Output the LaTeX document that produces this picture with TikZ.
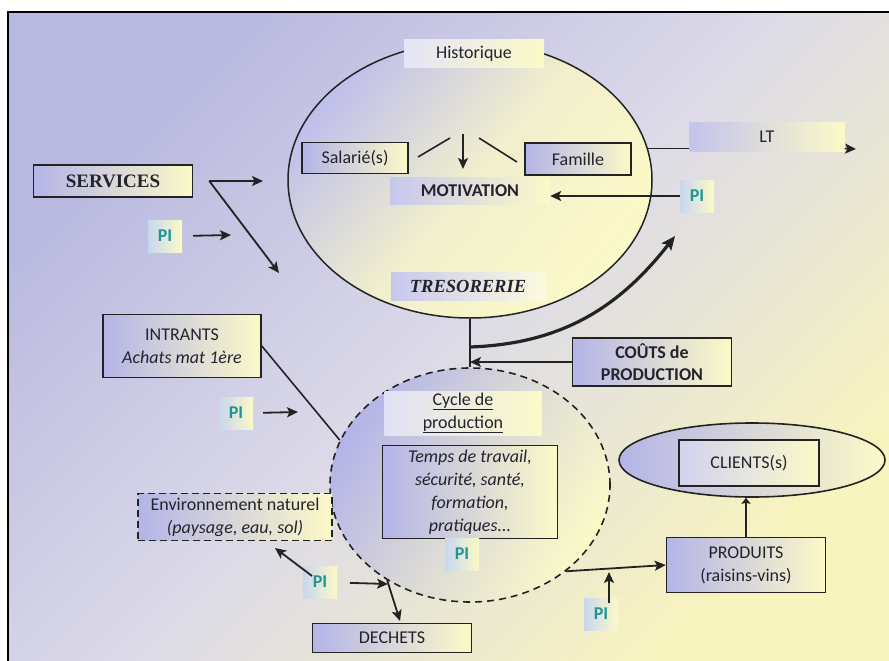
\documentclass[tikz,border=0pt]{standalone}
\usepackage{fontspec}
\setmainfont{Carlito}
\newfontfamily\tms{Liberation Serif}
\usetikzlibrary{shapes.geometric,arrows.meta}
\definecolor{bgA}{RGB}{184,184,224}
\definecolor{bgB}{RGB}{220,218,232}
\definecolor{bgC}{RGB}{248,244,190}
\definecolor{lav}{RGB}{180,180,232}
\definecolor{yel}{RGB}{252,249,200}
\definecolor{txt}{RGB}{35,35,45}
\definecolor{piteal}{RGB}{30,150,150}
\definecolor{pibg}{RGB}{200,215,238}
\definecolor{edge}{RGB}{35,35,35}
\tikzset{
  base/.style={font=\fontsize{18}{23}\selectfont, text=txt, align=center, inner sep=0pt},
  gbox/.style={base, draw=edge, line width=1.6pt, left color=lav, right color=yel},
  lbl/.style={base, left color=lav!75!white, right color=yel},
  pil/.style={base, text=piteal, font=\fontsize{18}{23}\selectfont\bfseries,
    minimum width=34pt, minimum height=32pt, left color=pibg, right color=yel},
  arr/.style={line width=1.8pt, draw=edge, -{Stealth[length=11pt,width=10pt,inset=2.5pt]}},
  ln/.style={line width=1.6pt, draw=edge},
}
\begin{document}
\begin{tikzpicture}[x=1pt,y=-1pt]
\useasboundingbox (0,0) rectangle (889,661);
\fill[white] (0,0) rectangle (889,661);
\shade[top color=bgA, bottom color=bgC, middle color=bgB, shading angle=45] (8,12) rectangle (889,661);
\draw[line width=1.5pt] (8,661) -- (8,12) -- (889,12);

% ---------- top ellipse ----------
\node[ellipse, draw=edge, line width=1.5pt, minimum width=364pt, minimum height=276pt, inner sep=0pt,
      top color=lav!85!white, bottom color=yel, middle color=yel!85!lav, shading angle=50] (top) at (470,180) {};
\node[lbl, minimum width=140pt, minimum height=28pt, left color=lav!35!white] (hist) at (474,54) {Historique};
\node[gbox, minimum width=106pt, minimum height=31pt] (sal) at (355,158) {Salarié(s)};
\node[gbox, minimum width=106pt, minimum height=32pt] (fam) at (578,159) {Famille};
\coordinate (l1a) at (418,157); \coordinate (l1b) at (450,138);
\coordinate (r1a) at (479,138); \coordinate (r1b) at (517,162);
\coordinate (dn1) at (463,134); \coordinate (dn2) at (463,169);
\draw[ln] (l1a) -- (l1b);
\draw[ln] (r1a) -- (r1b);
\draw[arr] (dn1) -- (dn2);
\node[lbl, minimum width=160pt, minimum height=27pt, font=\fontsize{18}{23}\selectfont\bfseries] (mot) at (470,191) {MOTIVATION};
\node[lbl, minimum width=154pt, minimum height=28pt, right color=yel!60!white, font=\fontsize{18.5}{23}\selectfont\tms\bfseries\itshape] (tres) at (468,286) {TRESORERIE};

% ---------- LT ----------
\node[lbl, minimum width=155pt, minimum height=29pt, left color=lav!80!white] (lt) at (767,137) {LT};
\coordinate (ltend) at (856,149);
\draw[ln] (top.10) -- (top.10 -| lt.west);
\draw[arr, line width=1.5pt] (top.10 -| lt.east) -- (ltend);

% ---------- PI -> motivation ----------
\node[pil] (pi3) at (697,196) {PI};
\draw[arr] (pi3.west) -- (pi3.west -| mot.east);

% ---------- SERVICES ----------
\node[gbox, minimum width=159pt, minimum height=32pt, font=\fontsize{19}{23}\selectfont\tms\bfseries] (serv) at (113,181) {SERVICES};
\coordinate (sj) at ([xshift=16pt]serv.east);
\coordinate (sa) at (263,181);
\coordinate (sb) at (279,273);
\draw[arr] (sj) -- (sa);
\draw[arr] (sj) -- (sb);
\node[pil] (pi1) at (165,236) {PI};
\coordinate (pa) at (231,235);
\draw[arr, shorten <=11pt] (pi1.east) -- (pa);

% ---------- production cycle ----------
\node[ellipse, draw=edge, line width=1.6pt, dash pattern=on 7pt off 5pt, minimum width=280pt, minimum height=234pt, inner sep=0pt,
      top color=lav, bottom color=yel, middle color=lav!45!yel, shading angle=60] (cyc) at (470,485) {};
\draw[line width=1.3pt, draw=edge] (top.south) -- (cyc.north);
\node[lbl, minimum width=157pt, minimum height=44pt, left color=lav!40!white] (cyl) at (463,413) {\underline{Cycle de}\\\underline{production}};
\node[gbox, minimum width=175pt, minimum height=93pt, font=\fontsize{18}{23}\selectfont\itshape] (tt) at (470,492) {Temps de travail,\\sécurité, santé,\\formation,\\pratiques...};
\node[pil] (pi4) at (462,554) {PI};

% ---------- COUTS ----------
\node[gbox, minimum width=159pt, minimum height=48pt, font=\fontsize{18}{22}\selectfont\bfseries] (cout) at (652,362) {COÛTS de\\PRODUCTION};
\draw[arr] (cout.west) -- (cout.west -| top.south);
\coordinate (j1) at (470,347);
\coordinate (tc) at (675,236);
\draw[line width=3.2pt, draw=edge, -{Stealth[length=14pt,width=12pt,inset=3pt]}] (j1) to[out=2, in=-128] (tc);

% ---------- INTRANTS ----------
\node[gbox, minimum width=158pt, minimum height=63pt] (intr) at (182,346) {INTRANTS\\\textit{Achats mat 1ère}};
\draw[ln] (intr.east) -- (cyc.161);
\node[pil] (pi2) at (236,413) {PI};
\coordinate (pb) at (298,412);
\draw[arr, shorten <=10pt] (pi2.east) -- (pb);

% ---------- environment ----------
\node[gbox, dash pattern=on 7pt off 4pt, minimum width=194pt, minimum height=47pt] (env) at (235,517) {Environnement naturel\\\textit{(paysage, eau, sol)}};
\node[pil] (pi5) at (320,582) {PI};
\coordinate (e1) at (275,548);
\coordinate (pd) at (388,584);
\draw[arr, shorten <=10pt] (pi5.center) -- (e1);
\draw[arr, shorten <=30pt] (pi5.center) -- (pd);
\coordinate (d1) at (400,621);
\draw[arr] (cyc.229) -- (d1);
\node[gbox, minimum width=159pt, minimum height=29pt] (dech) at (392,638) {DECHETS};

% ---------- products / clients ----------
\node[ellipse, draw=edge, line width=1.6pt, minimum width=266pt, minimum height=74pt, inner sep=0pt,
      left color=lav, right color=yel] (cli) at (752,460) {};
\node[gbox, minimum width=140pt, minimum height=46pt, left color=lav!60!white] (clb) at (749,463) {CLIENTS(s)};
\node[gbox, minimum width=159pt, minimum height=55pt] (prod) at (746,565) {PRODUITS\\(raisins-vins)};
\draw[arr] (cyc.-42.5) -- (prod.west);
\draw[arr, -{Stealth[length=6pt,width=9pt,inset=1pt]}] (prod.north) -- (prod.north |- cli.south);
\node[pil] (pi6) at (601,614) {PI};
\coordinate (p6a) at (609,603);
\coordinate (p6b) at (609,572);
\draw[arr] (p6a) -- (p6b);
\end{tikzpicture}
\end{document}
